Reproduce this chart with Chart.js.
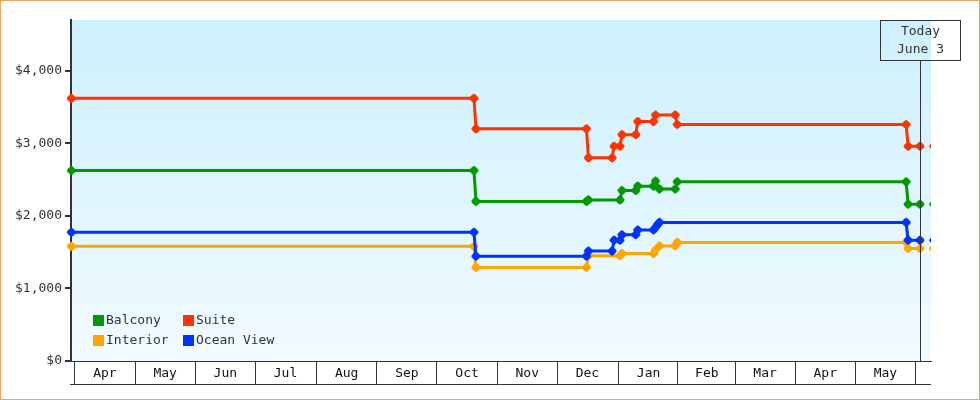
<!DOCTYPE html>
<html>
<head>
<meta charset="utf-8">
<title>Cabin price history</title>
<script src="https://cdn.jsdelivr.net/npm/chart.js@4.4.1/dist/chart.umd.min.js"></script>
<style>
  html, body { margin: 0; padding: 0; background: #fff; }
  #chart { display: block; }
</style>
</head>
<body>
<canvas id="chart" width="980" height="400"></canvas>
<script>
// fare history per cabin type, one entry per day the fare was seen
const balconyDates = ['2022-03-30', '2022-10-20', '2022-10-21', '2022-12-16', '2022-12-17', '2023-01-02', '2023-01-03', '2023-01-10', '2023-01-11', '2023-01-19', '2023-01-20', '2023-01-22', '2023-01-30', '2023-01-31', '2023-05-27', '2023-05-28', '2023-06-03', '2023-06-10'];
const balconyPrices = [2625, 2625, 2200, 2200, 2220, 2220, 2350, 2350, 2410, 2410, 2480, 2370, 2370, 2470, 2470, 2160, 2160, 2160];

const suiteDates = ['2022-03-30', '2022-10-20', '2022-10-21', '2022-12-16', '2022-12-17', '2022-12-29', '2022-12-30', '2023-01-02', '2023-01-03', '2023-01-10', '2023-01-11', '2023-01-19', '2023-01-20', '2023-01-30', '2023-01-31', '2023-05-27', '2023-05-28', '2023-06-03', '2023-06-10'];
const suitePrices = [3620, 3620, 3200, 3200, 2800, 2800, 2960, 2960, 3120, 3120, 3300, 3300, 3390, 3390, 3260, 3260, 2960, 2960, 2960];

const oceanDates = ['2022-03-30', '2022-10-20', '2022-10-21', '2022-12-16', '2022-12-17', '2022-12-29', '2022-12-30', '2023-01-02', '2023-01-03', '2023-01-10', '2023-01-11', '2023-01-19', '2023-01-20', '2023-01-21', '2023-01-22', '2023-05-27', '2023-05-28', '2023-06-03', '2023-06-10'];
const oceanPrices = [1775, 1775, 1445, 1445, 1515, 1515, 1665, 1665, 1740, 1740, 1805, 1805, 1840, 1880, 1910, 1910, 1665, 1665, 1665];

const interiorDates = ['2022-03-30', '2022-10-20', '2022-10-21', '2022-12-16', '2022-12-17', '2023-01-02', '2023-01-03', '2023-01-19', '2023-01-20', '2023-01-22', '2023-01-30', '2023-01-31', '2023-05-27', '2023-05-28', '2023-06-03', '2023-06-10'];
const interiorPrices = [1580, 1580, 1290, 1290, 1450, 1450, 1480, 1480, 1530, 1585, 1585, 1635, 1635, 1550, 1550, 1550];

const monthStarts = ['2022-04-01', '2022-05-01', '2022-06-01', '2022-07-01', '2022-08-01', '2022-09-01', '2022-10-01', '2022-11-01', '2022-12-01', '2023-01-01', '2023-02-01', '2023-03-01', '2023-04-01', '2023-05-01', '2023-06-01'];
const monthLabels = ['Apr', 'May', 'Jun', 'Jul', 'Aug', 'Sep', 'Oct', 'Nov', 'Dec', 'Jan', 'Feb', 'Mar', 'Apr', 'May'];
const priceTicks = [0, 1000, 2000, 3000, 4000];
const todayDate = '2023-06-03';
const todayText = ['Today', 'June 3'];

const FONT = "'DejaVu Sans Mono', monospace";
const TEXT = '#333';
const BASE = Date.UTC(2022, 3, 1);

function dayOf(s) {
    const [y, m, d] = s.split('-').map(Number);
    return (Date.UTC(y, m - 1, d) - BASE) / 86400000;
}

const monthMids = monthLabels.map((_, i) => (dayOf(monthStarts[i]) + dayOf(monthStarts[i + 1])) / 2);
const todayDay = dayOf(todayDate);

function series(label, color, dates, prices) {
    const last = dates.length - 1;
    return {
        label,
        data: dates.map((d, i) => ({ x: dayOf(d), y: prices[i] })),
        borderColor: color,
        backgroundColor: color,
        borderWidth: 3,
        tension: 0,
        pointStyle: 'rectRounded',
        pointRotation: 45,
        pointRadius: 4.2,
        pointBorderWidth: 0.5,
        pointBackgroundColor: color,
        pointBorderColor: color,
        clip: { left: 8, top: 8, right: 0, bottom: 8 },
        // the point after today only peeks in at the edge, no line to it
        segment: { borderColor: ctx => ctx.p1DataIndex === last ? 'rgba(0,0,0,0)' : color }
    };
}

// balcony drawn last so it sits on top, interior at the bottom
const datasets = [
    series('Balcony', '#009900', balconyDates, balconyPrices),
    series('Suite', '#ff3300', suiteDates, suitePrices),
    series('Ocean View', '#0033ff', oceanDates, oceanPrices),
    series('Interior', '#ffa500', interiorDates, interiorPrices)
];
const legendOrder = ['Balcony', 'Suite', 'Interior', 'Ocean View'];

const decorations = {
    id: 'decorations',
    beforeDraw(chart) {
        const { ctx, chartArea: a } = chart;
        ctx.save();
        ctx.fillStyle = '#fff';
        ctx.fillRect(0, 0, chart.width, chart.height);
        const g = ctx.createLinearGradient(0, a.top, 0, a.bottom);
        g.addColorStop(0, '#ccf0fd');
        g.addColorStop(1, '#f2fbff');
        ctx.fillStyle = g;
        ctx.fillRect(a.left, a.top, a.right - a.left, a.bottom - a.top);
        ctx.restore();
    },
    afterDatasetsDraw(chart) {
        const { ctx, chartArea: a } = chart;
        const x = Math.round(chart.scales.x.getPixelForValue(todayDay)) + 0.5;
        ctx.save();
        ctx.strokeStyle = TEXT;
        ctx.lineWidth = 1;
        ctx.beginPath();
        ctx.moveTo(x, 60);
        ctx.lineTo(x, a.bottom);
        ctx.stroke();
        ctx.strokeRect(x - 40, 20.5, 80, 40);
        ctx.fillStyle = TEXT;
        ctx.font = '13px ' + FONT;
        ctx.textAlign = 'center';
        ctx.textBaseline = 'middle';
        ctx.fillText(todayText[0], x, 32);
        ctx.fillText(todayText[1], x, 50);
        ctx.restore();
    },
    afterDraw(chart) {
        const { ctx, chartArea: a } = chart;
        ctx.save();
        // legend inside the plot, two columns
        ctx.font = '13px ' + FONT;
        ctx.textBaseline = 'middle';
        ctx.textAlign = 'left';
        legendOrder.forEach((name, i) => {
            const ds = chart.data.datasets.find(d => d.label === name);
            const lx = 93 + (i % 2) * 90;
            const ly = 315 + Math.floor(i / 2) * 20;
            ctx.fillStyle = ds.borderColor;
            ctx.fillRect(lx, ly, 11, 11);
            ctx.fillStyle = TEXT;
            ctx.fillText(name, lx + 13, ly + 6);
        });
        // bottom edge of the month boxes
        ctx.strokeStyle = TEXT;
        ctx.lineWidth = 1;
        ctx.beginPath();
        ctx.moveTo(a.left - 1, 384.5);
        ctx.lineTo(a.right, 384.5);
        ctx.stroke();
        // outer frame
        ctx.strokeStyle = '#e9a964';
        ctx.strokeRect(0.5, 0.5, chart.width - 1, chart.height - 1);
        ctx.restore();
    }
};

new Chart(document.getElementById('chart'), {
    type: 'line',
    data: { datasets },
    plugins: [decorations],
    options: {
        responsive: false,
        animation: false,
        events: [],
        layout: { padding: { left: 0, top: 20, right: 49, bottom: 0 } },
        plugins: { legend: { display: false }, tooltip: { enabled: false } },
        scales: {
            x: {
                type: 'linear',
                min: -2.2,
                max: 433.6,
                afterBuildTicks: s => { s.ticks = monthMids.map(v => ({ value: v })); },
                afterFit: s => { s.height = 39; },
                grid: { offset: true, drawOnChartArea: false, tickLength: 24, color: TEXT, lineWidth: 1 },
                border: { display: true, color: TEXT, width: 1 },
                ticks: {
                    autoSkip: false,
                    maxRotation: 0,
                    padding: -19,
                    color: '#111',
                    font: { family: FONT, size: 13 },
                    callback: (v, i) => monthLabels[i]
                }
            },
            y: {
                min: 0,
                max: 4700,
                afterBuildTicks: s => { s.ticks = priceTicks.map(v => ({ value: v })); },
                afterFit: s => { s.width = 71; },
                grid: { drawOnChartArea: false, tickLength: 6, color: TEXT, lineWidth: 2 },
                border: { display: true, color: TEXT, width: 2 },
                ticks: {
                    padding: 3,
                    color: TEXT,
                    font: { family: FONT, size: 13 },
                    callback: v => '$' + v.toLocaleString('en-US')
                }
            }
        }
    }
});
</script>
</body>
</html>
